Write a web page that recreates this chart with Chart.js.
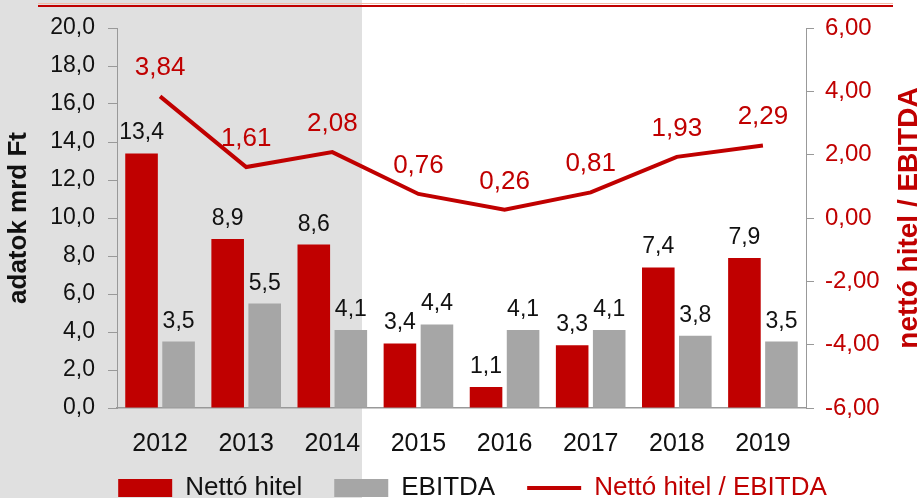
<!DOCTYPE html>
<html>
<head>
<meta charset="utf-8">
<script src="https://cdn.jsdelivr.net/npm/chart.js@4"></script>
<style>
  html, body { margin: 0; padding: 0; background: #fff; }
  #wrap { width: 917px; height: 498px; }
</style>
</head>
<body>
<div id="wrap"><canvas id="chart" width="917" height="498"></canvas></div>
<script>
// adatok
const years = ['2012', '2013', '2014', '2015', '2016', '2017', '2018', '2019'];
const nettoHitel = [13.4, 8.9, 8.6, 3.4, 1.1, 3.3, 7.4, 7.9];
const ebitda = [3.5, 5.5, 4.1, 4.4, 4.1, 4.1, 3.8, 3.5];
const arany = [3.84, 1.61, 2.08, 0.76, 0.26, 0.81, 1.93, 2.29];

const RED = '#C00000';
const GREY = '#A6A6A6';
const FONT = "'Liberation Sans', Arial, sans-serif";

const fmt = (v, d) => v.toFixed(d).replace('.', ',');

// szürke háttér és felső vonal
const backgroundPlugin = {
    id: 'background',
    beforeDraw(chart) {
        const ctx = chart.ctx;
        ctx.save();
        ctx.fillStyle = '#E0E0E0';
        ctx.fillRect(0, 0, 362, chart.height);
        ctx.strokeStyle = '#F4B9A8';
        ctx.lineWidth = 1;
        ctx.beginPath();
        ctx.moveTo(38, 3.5);
        ctx.lineTo(893, 3.5);
        ctx.stroke();
        ctx.strokeStyle = RED;
        ctx.lineWidth = 2;
        ctx.beginPath();
        ctx.moveTo(38, 6);
        ctx.lineTo(893, 6);
        ctx.stroke();
        ctx.restore();
    }
};

// a jelmagyarázat alacsonyabb legyen, de a vízszintes térköz maradjon
const legendHeight = {
    id: 'legendHeight',
    afterInit(chart) {
        const legend = chart.legend;
        if (!legend) return;
        const fit = legend.fit;
        legend.fit = function() {
            fit.call(this);
            this.height = 40;
        };
        const draw = legend.draw;
        legend.draw = function() {
            const top = this.top, left = this.left, right = this.right;
            this.top = top - 15;
            this.left = left + 14;
            this.right = right + 14;
            draw.apply(this, arguments);
            this.top = top;
            this.left = left;
            this.right = right;
        };
    }
};

// jobb oldali tengelycím (alulról felfelé olvasható)
const rightTitle = {
    id: 'rightTitle',
    afterDraw(chart) {
        const ctx = chart.ctx;
        const area = chart.chartArea;
        ctx.save();
        ctx.translate(917, (area.top + area.bottom) / 2);
        ctx.rotate(-Math.PI / 2);
        ctx.fillStyle = RED;
        ctx.font = 'bold 28px ' + FONT;
        ctx.textAlign = 'center';
        ctx.textBaseline = 'alphabetic';
        ctx.fillText('nettó hitel / EBITDA', 0, 0);
        ctx.restore();
    }
};

// értékcímkék
const valueLabels = {
    id: 'valueLabels',
    afterDatasetsDraw(chart) {
        const ctx = chart.ctx;
        ctx.save();
        ctx.textAlign = 'center';
        ctx.textBaseline = 'alphabetic';
        chart.data.datasets.forEach((ds, i) => {
            const meta = chart.getDatasetMeta(i);
            meta.data.forEach((el, j) => {
                const v = ds.data[j];
                if (ds.type === 'line') {
                    ctx.fillStyle = RED;
                    ctx.font = '26px ' + FONT;
                    ctx.fillText(fmt(v, 2), el.x, el.y - 21);
                } else {
                    ctx.fillStyle = '#111';
                    ctx.font = '23px ' + FONT;
                    ctx.fillText(fmt(v, 1), el.x, el.y - 14);
                }
            });
        });
        ctx.restore();
    }
};

const ctx = document.getElementById('chart').getContext('2d');
new Chart(ctx, {
    data: {
        labels: years,
        datasets: [
            {
                type: 'line',
                label: 'Nettó hitel / EBITDA',
                data: arany,
                yAxisID: 'y1',
                borderColor: RED,
                backgroundColor: RED,
                borderWidth: 4,
                pointRadius: 0,
                tension: 0,
                pointStyle: 'line',
                order: 0
            },
            {
                type: 'bar',
                label: 'Nettó hitel',
                data: nettoHitel,
                yAxisID: 'y',
                backgroundColor: RED,
                borderWidth: 0,
                pointStyle: 'rect',
                categoryPercentage: 0.86,
                barPercentage: 0.88,
                order: 1
            },
            {
                type: 'bar',
                label: 'EBITDA',
                data: ebitda,
                yAxisID: 'y',
                backgroundColor: GREY,
                borderWidth: 0,
                pointStyle: 'rect',
                categoryPercentage: 0.86,
                barPercentage: 0.88,
                order: 1
            }
        ]
    },
    options: {
        responsive: false,
        animation: false,
        devicePixelRatio: 1,
        layout: { padding: { top: 28, left: 0, right: 0, bottom: 0 } },
        plugins: {
            legend: {
                position: 'bottom',
                labels: {
                    usePointStyle: true,
                    pointStyleWidth: 54,
                    boxHeight: 18,
                    padding: 32,
                    color: '#111',
                    font: { family: FONT, size: 26 },
                    sort: (a, b) => [1, 2, 0].indexOf(a.datasetIndex) - [1, 2, 0].indexOf(b.datasetIndex),
                    generateLabels(chart) {
                        const items = Chart.defaults.plugins.legend.labels.generateLabels(chart);
                        items.forEach(it => {
                            it.fontColor = it.datasetIndex === 0 ? RED : '#111';
                            if (it.datasetIndex === 0) it.lineWidth = 4;
                        });
                        return items;
                    }
                }
            },
            tooltip: { enabled: false }
        },
        scales: {
            x: {
                grid: { display: false, drawTicks: false },
                border: { color: '#999', width: 1.5 },
                ticks: { color: '#111', font: { family: FONT, size: 25 }, padding: 21 },
                afterFit(scale) { scale.height = 50; }
            },
            y: {
                position: 'left',
                min: 0,
                max: 20,
                ticks: {
                    stepSize: 2,
                    color: '#111',
                    padding: 13,
                    font: { family: FONT, size: 23 },
                    callback: v => fmt(v, 1)
                },
                grid: { display: true, drawOnChartArea: false, drawTicks: true, tickLength: 9, color: '#999' },
                border: { color: '#999', width: 1 },
                title: {
                    display: true,
                    text: 'adatok mrd Ft',
                    color: '#111',
                    font: { family: FONT, size: 26, weight: 'bold' },
                    padding: { top: 3, bottom: 0 }
                },
                afterFit(scale) { scale.width = 117; }
            },
            y1: {
                position: 'right',
                min: -6,
                max: 6,
                ticks: {
                    stepSize: 2,
                    color: RED,
                    padding: 11,
                    font: { family: FONT, size: 24 },
                    callback: v => fmt(v, 2)
                },
                grid: { display: true, drawOnChartArea: false, drawTicks: true, tickLength: 8, color: '#999' },
                border: { color: '#999', width: 1 },
                afterFit(scale) { scale.width = 111; }
            }
        }
    },
    plugins: [legendHeight, backgroundPlugin, valueLabels, rightTitle]
});
</script>
</body>
</html>
